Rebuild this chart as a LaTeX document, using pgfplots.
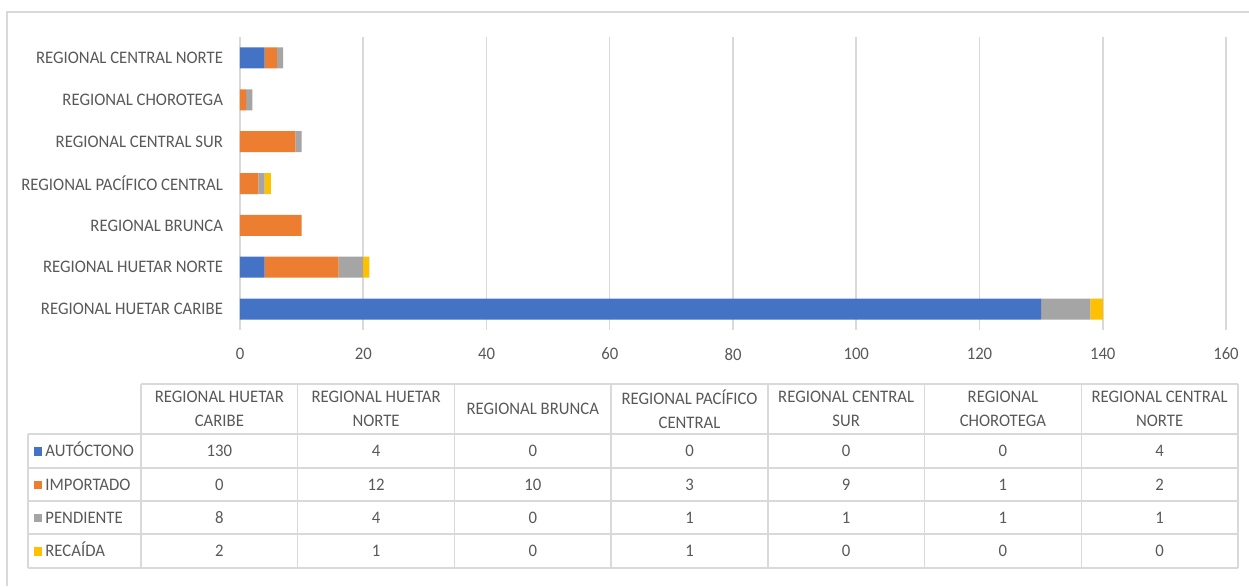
\documentclass[border=0pt]{standalone}
\usepackage{fontspec}
\setmainfont{Carlito}[FakeStretch=0.95]
\usepackage{pgfplots}
\usepackage{pgfplotstable}
\pgfplotsset{compat=1.18}
\definecolor{cA}{HTML}{4472C4}
\definecolor{cI}{HTML}{ED7D31}
\definecolor{cP}{HTML}{A5A5A5}
\definecolor{cR}{HTML}{FFC000}
\definecolor{txt}{HTML}{595959}
\definecolor{grd}{HTML}{D9D9D9}
\pgfplotstableread{
y A I P R
0 130 0 8 2
1 4 12 4 1
2 0 10 0 0
3 0 3 1 1
4 0 9 1 0
5 0 1 1 0
6 4 2 1 0
}\data
\begin{document}
\begin{tikzpicture}[font=\fontsize{8.8}{10.5}\selectfont, text=txt]
\useasboundingbox (0,0) rectangle (624.5pt,293pt);
\begin{axis}[at={(120pt,128pt)}, anchor=south west, scale only axis,
  width=493pt, height=146.5pt,
  xbar stacked, bar width=10.5pt,
  xmin=0, xmax=160, ymin=-0.5, ymax=6.5,
  ytick={0,...,6},
  yticklabels={REGIONAL HUETAR CARIBE,REGIONAL HUETAR NORTE,REGIONAL BRUNCA,REGIONAL PACÍFICO CENTRAL,REGIONAL CENTRAL SUR,REGIONAL CHOROTEGA,REGIONAL CENTRAL NORTE},
  xtick={0,20,...,160},
  xmajorgrids, grid style={draw=grd, line width=0.75pt},
  axis line style={draw=none}, major tick length=0pt,
  /pgf/number format/assume math mode=true,
  ticklabel style={font=\fontsize{8.8}{10.5}\selectfont, text=txt},
  x tick label style={yshift=-5.5pt},
  y tick label style={xshift=-5pt},
  clip=false]
\addplot[fill=cA, draw=none] table[x=A, y=y] {\data};
\addplot[fill=cI, draw=none] table[x=I, y=y] {\data};
\addplot[fill=cP, draw=none] table[x=P, y=y] {\data};
\addplot[fill=cR, draw=none] table[x=R, y=y] {\data};
\end{axis}
\begin{scope}[shift={(0,293pt)}, x=0.5pt, y=-0.5pt]
  % outer frame
  \draw[grd, line width=0.75pt] (7,586) -- (7,12) -- (1249,12);
  % table lines
  \begin{scope}[grd, line width=0.75pt]
    \draw (141,384) -- (1238,384);
    \foreach \yy in {434,468,501,534,568} \draw (28,\yy) -- (1238,\yy);
    \draw (28,434) -- (28,568);
    \foreach \k in {0,...,7} \draw ({141+\k*156.71},384) -- ({141+\k*156.71},568);
  \end{scope}
  % headers
  \foreach \h [count=\i from 0] in {{REGIONAL HUETAR\\CARIBE},{REGIONAL HUETAR\\NORTE},{REGIONAL BRUNCA},{REGIONAL PACÍFICO\\CENTRAL},{REGIONAL CENTRAL\\SUR},{REGIONAL\\CHOROTEGA},{REGIONAL CENTRAL\\NORTE}}
    \node[align=center, inner sep=0pt, text=txt, font=\fontsize{8.8}{12}\selectfont] at ({141+(\i+0.5)*156.71},409) {\h};
  % row labels
  \foreach \lab/\col/\yy in {AUTÓCTONO/cA/451,IMPORTADO/cI/484.5,PENDIENTE/cP/517.5,RECAÍDA/cR/551} {
    \fill[\col] (34,\yy-4) rectangle (41.5,\yy+4.5);
    \node[anchor=base west, inner sep=0pt, text=txt] at (45,\yy+5.5) {\lab};
  }
  % values
  \foreach \row/\yy in {{130,4,0,0,0,0,4}/451,{0,12,10,3,9,1,2}/484.5,{8,4,0,1,1,1,1}/517.5,{2,1,0,1,0,0,0}/551} {
    \foreach \v [count=\i from 0] in \row
      \node[anchor=base, inner sep=0pt, text=txt] at ({141+(\i+0.5)*156.71},\yy+5.5) {\v};
  }
\end{scope}
\end{tikzpicture}
\end{document}
